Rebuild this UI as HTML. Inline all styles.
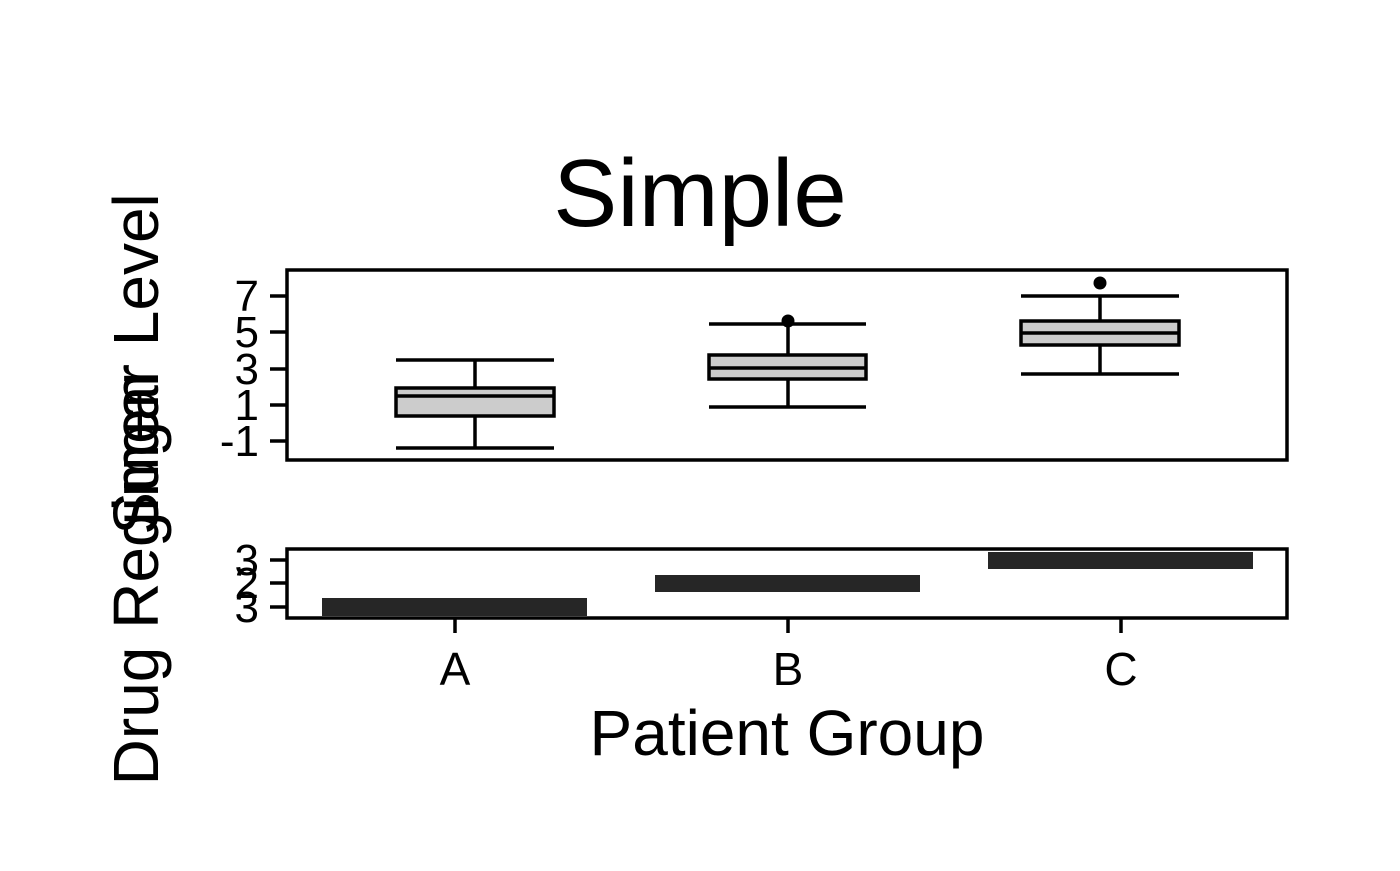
<!DOCTYPE html>
<html><head><style>body{margin:0;background:#fff}</style></head><body>
<svg width="1400" height="866" xmlns="http://www.w3.org/2000/svg" font-family="Liberation Sans, Arial, sans-serif">
<rect width="1400" height="866" fill="#fff"/>
<text x="700" y="226" font-size="96" text-anchor="middle">Simple</text>
<g stroke="#000" stroke-width="3.5" fill="none">
<rect x="287" y="270" width="1000" height="190"/>
<line x1="270" y1="296" x2="287" y2="296"/><line x1="270" y1="332" x2="287" y2="332"/><line x1="270" y1="369" x2="287" y2="369"/><line x1="270" y1="405" x2="287" y2="405"/><line x1="270" y1="441" x2="287" y2="441"/>
<line x1="396" y1="360" x2="554" y2="360"/><line x1="396" y1="448" x2="554" y2="448"/>
<line x1="475" y1="360" x2="475" y2="388"/><line x1="475" y1="416" x2="475" y2="448"/>
<rect x="396" y="388" width="158" height="28" fill="#cccccc"/><line x1="396" y1="396" x2="554" y2="396"/>
<line x1="709" y1="324" x2="866" y2="324"/><line x1="709" y1="407" x2="866" y2="407"/>
<line x1="788" y1="324" x2="788" y2="355"/><line x1="788" y1="379" x2="788" y2="407"/>
<rect x="709" y="355" width="157" height="24" fill="#cccccc"/><line x1="709" y1="368" x2="866" y2="368"/>
<line x1="1021" y1="296" x2="1179" y2="296"/><line x1="1021" y1="374" x2="1179" y2="374"/>
<line x1="1100" y1="296" x2="1100" y2="321"/><line x1="1100" y1="345" x2="1100" y2="374"/>
<rect x="1021" y="321" width="158" height="24" fill="#cccccc"/><line x1="1021" y1="333" x2="1179" y2="333"/>
<rect x="287" y="549" width="1000" height="69"/>
<line x1="270" y1="560" x2="287" y2="560"/><line x1="270" y1="583" x2="287" y2="583"/><line x1="270" y1="607" x2="287" y2="607"/>
<line x1="455" y1="618" x2="455" y2="633"/><line x1="788" y1="618" x2="788" y2="633"/><line x1="1121" y1="618" x2="1121" y2="633"/>
</g>
<circle cx="788" cy="321" r="6.5"/><circle cx="1100" cy="283" r="6.5"/>
<rect x="322" y="598" width="265" height="18" fill="#262626"/>
<rect x="655" y="575" width="265" height="17" fill="#262626"/>
<rect x="988" y="552" width="265" height="17" fill="#262626"/>
<g font-size="44" text-anchor="end">
<text x="259" y="311">7</text><text x="259" y="347">5</text><text x="259" y="384">3</text><text x="259" y="420">1</text><text x="259" y="456">-1</text>
<text x="259" y="575">3</text><text x="259" y="598">2</text><text x="259" y="622">3</text>
</g>
<g font-size="46" text-anchor="middle">
<text x="455" y="685">A</text><text x="788" y="685">B</text><text x="1121" y="685">C</text>
</g>
<text x="787" y="755" font-size="64" text-anchor="middle">Patient Group</text>
<text transform="translate(158,364) rotate(-90)" font-size="64" text-anchor="middle">Sugar Level</text>
<text transform="translate(158,579) rotate(-90)" font-size="64" text-anchor="middle">Drug Regimen</text>
</svg>
</body></html>
